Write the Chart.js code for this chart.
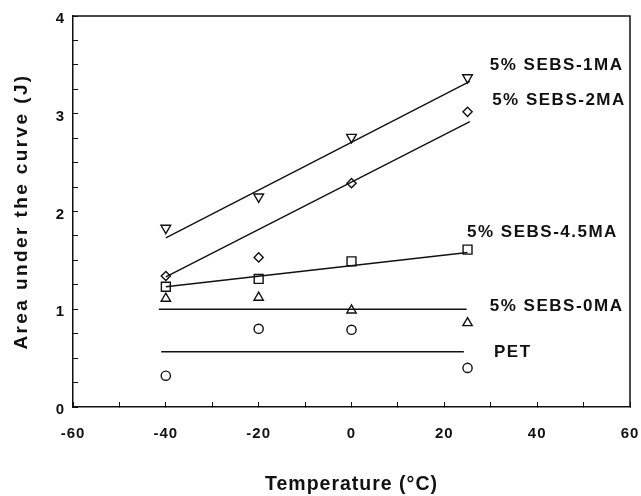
<!DOCTYPE html>
<html lang="en">
<head>
  <meta charset="UTF-8">
  <title>Area under the curve vs temperature</title>
  <script src="https://cdn.jsdelivr.net/npm/chart.js"></script>
  <style>
    html, body { margin: 0; padding: 0; background: #fff; }
    canvas { display: block; }
  </style>
</head>
<body>
  <canvas id="chart" width="641" height="496"></canvas>

  <script>
    // measured temperatures (°C)
    const temps = [-40, -20, 0, 25];

    // area under the curve (J) for each blend
    const sebs1MA  = [1.83, 2.15, 2.76, 3.37];
    const sebs2MA  = [1.34, 1.53, 2.29, 3.02];
    const sebs45MA = [1.23, 1.31, 1.49, 1.61];
    const sebs0MA  = [1.11, 1.12, 0.99, 0.86];
    const pet      = [0.32, 0.80, 0.79, 0.40];

    // fitted lines: end points (x in °C, y in J)
    const fit1MAx  = [-40, 25.5], fit1MAy  = [1.73, 3.33];
    const fit2MAx  = [-40, 25.5], fit2MAy  = [1.33, 2.92];
    const fit45MAx = [-40, 25],   fit45MAy = [1.23, 1.58];
    const fit0MAx  = [-41.5, 24.8], fit0MAy = [1.0, 1.0];
    const fitPETx  = [-41, 24.2], fitPETy  = [0.565, 0.565];

    // series names written next to the lines
    const seriesNames = ["5% SEBS-1MA", "5% SEBS-2MA", "5% SEBS-4.5MA", "5% SEBS-0MA", "PET"];
    // where each name sits, in data units
    const nameAnchorX = [29.8, 30.3, 24.9, 29.8, 30.7];
    const nameAnchorY = [3.50, 3.14, 1.79, 1.03, 0.56];

    const yTitle = "Area under the curve (J)";

    const pts = (xs, ys) => xs.map((x, i) => ({ x: x, y: ys[i] }));

    function marks(ys, style, radius, rotation) {
      return {
        data: pts(temps, ys),
        showLine: false,
        pointStyle: style,
        pointRadius: radius,
        pointRotation: rotation || 0,
        pointBackgroundColor: "rgba(255,255,255,0)",
        pointBorderColor: "#111",
        pointBorderWidth: 1.4
      };
    }

    function fit(xs, ys) {
      return {
        data: pts(xs, ys),
        showLine: true,
        borderColor: "#111",
        borderWidth: 1.4,
        pointRadius: 0,
        fill: false
      };
    }

    Chart.defaults.font.family = "'Liberation Sans', Arial, sans-serif";
    Chart.defaults.font.weight = "bold";
    Chart.defaults.color = "#111";

    const frame = {
      id: "frame",
      beforeDraw(chart) {
        chart.ctx.letterSpacing = "1px";
      },
      afterDatasetsDraw(chart) {
        const { ctx, chartArea: a, scales } = chart;
        ctx.save();
        ctx.strokeStyle = "#111";
        ctx.lineWidth = 1.5;
        ctx.beginPath();
        ctx.moveTo(a.left, a.top);
        ctx.lineTo(a.right, a.top);
        ctx.lineTo(a.right, a.bottom);
        ctx.stroke();

        ctx.fillStyle = "#111";
        ctx.font = "bold 17px 'Liberation Sans', Arial, sans-serif";
        ctx.letterSpacing = "1.5px";
        ctx.textAlign = "left";
        ctx.textBaseline = "middle";
        seriesNames.forEach((n, i) => {
          ctx.fillText(n, scales.x.getPixelForValue(nameAnchorX[i]), scales.y.getPixelForValue(nameAnchorY[i]));
        });

        // y axis title, wider spaced than Chart.js allows
        ctx.font = "bold 19px 'Liberation Sans', Arial, sans-serif";
        ctx.letterSpacing = "2.4px";
        ctx.textAlign = "center";
        ctx.translate(22, (a.top + a.bottom) / 2);
        ctx.rotate(-Math.PI / 2);
        ctx.fillText(yTitle, 0, 0);
        ctx.restore();
      }
    };

    new Chart(document.getElementById("chart"), {
      type: "scatter",
      data: {
        datasets: [
          fit(fit1MAx, fit1MAy),
          fit(fit2MAx, fit2MAy),
          fit(fit45MAx, fit45MAy),
          fit(fit0MAx, fit0MAy),
          fit(fitPETx, fitPETy),
          marks(sebs1MA, "triangle", 5.6, 180),
          marks(sebs2MA, "rectRot", 4.6),
          marks(sebs45MA, "rect", 6.3),
          marks(sebs0MA, "triangle", 5.4),
          marks(pet, "circle", 4.6)
        ]
      },
      options: {
        responsive: false,
        animation: false,
        layout: { padding: { left: 0, top: 16, right: 11, bottom: 0 } },
        plugins: {
          legend: { display: false },
          tooltip: { enabled: false }
        },
        scales: {
          x: {
            type: "linear",
            min: -60,
            max: 60,
            afterFit(s) { s.height = 89; s.paddingLeft = 0; s.paddingRight = 0; },
            ticks: {
              stepSize: 10,
              autoSkip: false,
              maxRotation: 0,
              padding: 23,
              font: { size: 15, weight: "bold" },
              callback: v => (v % 20 === 0 ? v : "")
            },
            grid: { drawOnChartArea: false, tickLength: -5, color: "#111", lineWidth: 1 },
            border: { display: true, color: "#111", width: 1.5 },
            title: {
              display: true,
              text: "Temperature (°C)",
              font: { size: 19.5, weight: "bold" },
              padding: { top: 0, bottom: 0 }
            }
          },
          y: {
            min: 0,
            max: 4,
            afterFit(s) { s.width = 73; s.paddingTop = 0; s.paddingBottom = 0; },
            ticks: {
              stepSize: 0.25,
              autoSkip: false,
              padding: 13,
              labelOffset: 3,
              font: { size: 15, weight: "bold" },
              callback: v => (Number.isInteger(v) ? v : "")
            },
            grid: { drawOnChartArea: false, tickLength: -5, color: "#111", lineWidth: 1 },
            border: { display: true, color: "#111", width: 1.5 },
            title: { display: false }
          }
        }
      },
      plugins: [frame]
    });
  </script>
</body>
</html>
